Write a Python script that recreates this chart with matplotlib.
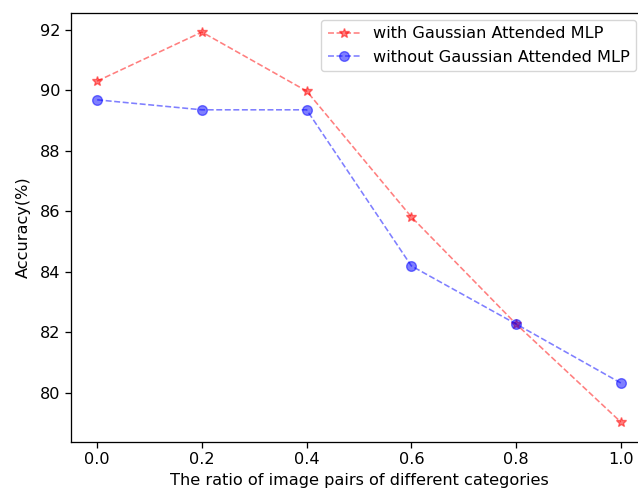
import numpy as np
import matplotlib
matplotlib.use("Agg")
import matplotlib.pyplot as plt

# ratio of image pairs of different categories
ratios = [0.0, 0.2, 0.4, 0.6, 0.8, 1.0]
acc_with = [90.31, 91.93, 89.98, 85.82, 82.28, 79.04]
acc_without = [89.69, 89.36, 89.36, 84.20, 82.28, 80.33]

W, H = 638, 491
sc = 1.16  # original looks rendered a bit larger than default
plt.rcParams['font.size'] = 10 * sc
plt.rcParams['axes.linewidth'] = 0.8 * sc
plt.rcParams['xtick.major.width'] = 0.8 * sc
plt.rcParams['ytick.major.width'] = 0.8 * sc
plt.rcParams['xtick.major.size'] = 3.5 * sc
plt.rcParams['ytick.major.size'] = 3.5 * sc

fig = plt.figure(figsize=(W/100, H/100), dpi=100)

# axes runs off the right edge like the cropped original
l, t, b, r = 71, 13, 442, 647
ax = fig.add_axes([l/W, (H-b)/H, (r-l)/W, (b-t)/H])

ax.plot(ratios, acc_with, 'r*--', alpha=0.5, linewidth=1*sc, markersize=6.5*sc,
        label='with Gaussian Attended MLP')
ax.plot(ratios, acc_without, 'bo--', alpha=0.5, linewidth=1*sc, markersize=6*sc,
        label='without Gaussian Attended MLP')

ax.set_xlabel('The ratio of image pairs of different categories')
ax.set_ylabel('Accuracy(%)', labelpad=4*sc + 2)
ax.set_xticks(ratios)
ax.set_yticks([80, 82, 84, 86, 88, 90, 92])
ax.set_ylim(78.38, 92.56)

ax.legend(loc='upper right', bbox_to_anchor=(636/W, 1-20/H),
          bbox_transform=fig.transFigure, borderaxespad=0)

fig.savefig('out.png', dpi=100)
